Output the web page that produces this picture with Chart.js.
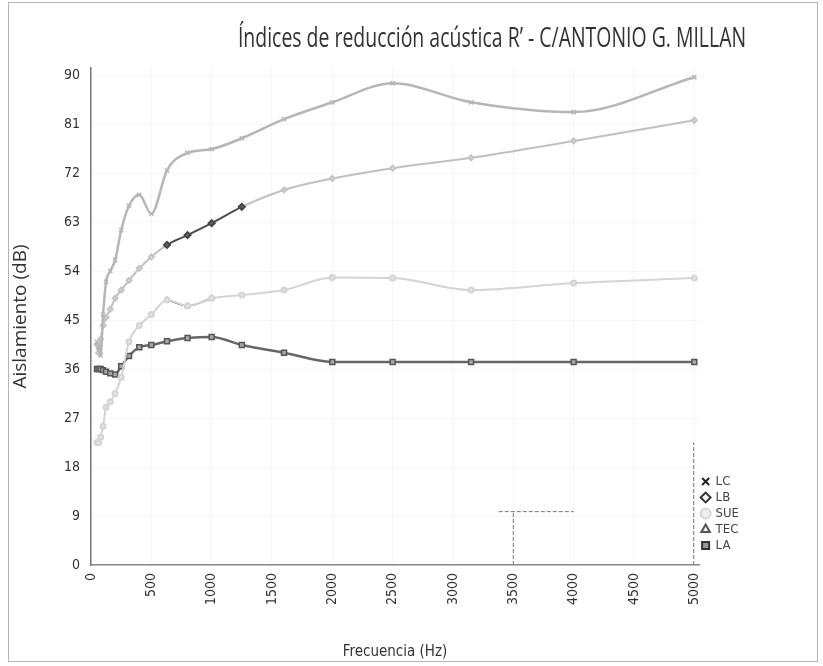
<!DOCTYPE html>
<html>
<head>
<meta charset="utf-8">
<script src="https://cdn.jsdelivr.net/npm/chart.js@4.4.1/dist/chart.umd.min.js"></script>
<style>
  body { margin: 0; background: #fff; }
  #frame {
    position: absolute; left: 8px; top: 2px;
    width: 810px; height: 660px;
    border: 1px solid #b4b4b4; box-sizing: border-box;
  }
  #frame canvas { display: block; }
</style>
</head>
<body>
<div id="frame"><canvas id="chart" width="808" height="658"></canvas></div>
<script>
(function() {
  var ctx = document.getElementById('chart');

  var textColor = '#333';
  var fontFamily = '"Liberation Sans Narrow", "DejaVu Sans Condensed", "Open Sans", sans-serif';
  var titleText = 'Índices de reducción acústica R\u2019 - C/ANTONIO G. MILLAN';

  /* third-octave band centres (Hz) */
  var freqs = [50, 63, 80, 100, 125, 160, 200, 250, 315, 400, 500, 630, 800, 1000, 1250, 1600, 2000, 2500, 3150, 4000, 5000];

  /* values, dB */
  var lcValues  = [41, 40, 38.5, 46, 52, 54, 56, 61.5, 66, 68, 64.5, 72.5, 75.7, 76.4, 78.4, 81.9, 85, 88.5, 85, 83.2, 89.6];
  var lbValues  = [40.5, 39, 41.5, 44, 45.5, 47, 49, 50.5, 52.3, 54.5, 56.6, 58.8, 60.6, 62.8, 65.8, 68.9, 71, 72.9, 74.8, 77.9, 81.7];
  var sueValues = [22.5, 22.5, 23.5, 25.5, 29, 30, 31.5, 34.5, 41, 44, 46, 48.7, 47.6, 49, 49.6, 50.5, 52.8, 52.7, 50.5, 51.8, 52.7];
  var tecValues = [null, null, null, null, null, null, null, null, null, null, null, 48.7, 47.6, 49, null, null, null, null, null, null, null];
  var laValues  = [36, 36, 36, 35.8, 35.5, 35.2, 35, 36.5, 38.4, 40, 40.4, 41.1, 41.7, 41.9, 40.4, 39, 37.3, 37.3, 37.3, 37.3, 37.3];

  /* dark stretch of the LB line (band range) */
  var lbDarkFrom = 630;
  var lbDarkTo = 1250;

  /* stray dashed marks on the scan */
  var guideLow  = [{ x: 3500, y: 0 }, { x: 3500, y: 9.8 }];
  var guideFlat = [{ x: 3380, y: 9.8 }, { x: 4000, y: 9.8 }];
  var guideEnd  = [{ x: 4995, y: 0 }, { x: 4995, y: 22.5 }];

  var yTicks = [0, 9, 18, 27, 36, 45, 54, 63, 72, 81, 90];
  var xTicks = [0, 500, 1000, 1500, 2000, 2500, 3000, 3500, 4000, 4500, 5000];

  var legendItems = [
    { text: 'LC',  style: 'crossRot', fill: '#222', stroke: '#222' },
    { text: 'LB',  style: 'rectRot',  fill: '#fff', stroke: '#333' },
    { text: 'SUE', style: 'circle',   fill: '#eee', stroke: '#d6d6d6' },
    { text: 'TEC', style: 'triangle', fill: '#eee', stroke: '#555' },
    { text: 'LA',  style: 'rect',     fill: '#999', stroke: '#333' }
  ];

  function toPoints(values) {
    return freqs.map(function(f, i) { return { x: f, y: values[i] }; });
  }

  function inDark(i) {
    return freqs[i] >= lbDarkFrom && freqs[i] <= lbDarkTo;
  }

  function guide(points) {
    return {
      label: '',
      data: points,
      borderColor: '#777',
      borderWidth: 1,
      borderDash: [4, 2],
      pointRadius: 0,
      showLine: true,
      fill: false
    };
  }

  new Chart(ctx, {
    type: 'scatter',
    data: {
      datasets: [
        {
          label: 'LC',
          data: toPoints(lcValues),
          borderColor: '#b6b6b6',
          backgroundColor: '#b6b6b6',
          borderWidth: 2.5,
          pointStyle: 'crossRot',
          pointRadius: 3,
          pointBorderWidth: 1.5,
          showLine: true,
          cubicInterpolationMode: 'monotone',
          fill: false
        },
        {
          label: 'LB',
          data: toPoints(lbValues),
          borderColor: '#c0c0c0',
          backgroundColor: '#c0c0c0',
          borderWidth: 2,
          pointStyle: 'rectRot',
          pointRadius: freqs.map(function(f, i) { return inDark(i) ? 3 : 2.5; }),
          pointBorderColor: freqs.map(function(f, i) { return inDark(i) ? '#444' : '#c4c4c4'; }),
          pointBackgroundColor: freqs.map(function(f, i) { return inDark(i) ? '#666' : '#ddd'; }),
          segment: {
            borderColor: function(c) {
              return (inDark(c.p0DataIndex) && inDark(c.p1DataIndex)) ? '#4a4a4a' : undefined;
            }
          },
          showLine: true,
          cubicInterpolationMode: 'monotone',
          fill: false
        },
        {
          label: 'SUE',
          data: toPoints(sueValues),
          borderColor: '#d4d4d4',
          backgroundColor: '#e4e4e4',
          borderWidth: 2,
          pointStyle: 'circle',
          pointRadius: 2.5,
          showLine: true,
          cubicInterpolationMode: 'monotone',
          fill: false
        },
        {
          label: 'TEC',
          data: toPoints(tecValues),
          borderColor: '#666',
          backgroundColor: '#777',
          borderWidth: 1.5,
          pointStyle: 'triangle',
          pointRadius: 2.5,
          showLine: true,
          spanGaps: false,
          cubicInterpolationMode: 'monotone',
          fill: false
        },
        {
          label: 'LA',
          data: toPoints(laValues),
          borderColor: '#666',
          backgroundColor: '#a8a8a8',
          pointBorderColor: '#555',
          borderWidth: 2.5,
          pointStyle: 'rect',
          pointRadius: 3.5,
          pointBorderWidth: 1.5,
          showLine: true,
          cubicInterpolationMode: 'monotone',
          fill: false
        },
        guide(guideLow),
        guide(guideFlat),
        guide(guideEnd)
      ]
    },
    options: {
      responsive: false,
      animation: false,
      layout: { padding: { top: 65, right: 68, bottom: 0, left: 0 } },
      plugins: {
        title: { display: false },
        legend: {
          position: 'right',
          align: 'end',
          fullSize: false,
          labels: {
            color: '#444',
            font: { size: 13, family: fontFamily },
            usePointStyle: true,
            boxWidth: 7,
            boxHeight: 7,
            padding: 3,
            generateLabels: function() {
              return legendItems.map(function(it, i) {
                return {
                  text: it.text,
                  pointStyle: it.style,
                  fillStyle: it.fill,
                  strokeStyle: it.stroke,
                  lineWidth: 2,
                  fontColor: '#444',
                  datasetIndex: i,
                  hidden: false
                };
              });
            }
          }
        },
        tooltip: { enabled: false }
      },
      scales: {
        x: {
          type: 'linear',
          min: 0,
          max: 5040,
          afterBuildTicks: function(axis) {
            axis.ticks = xTicks.map(function(v) { return { value: v }; });
          },
          afterFit: function(axis) { axis.height = 96; },
          border: { color: '#8a8a8a', width: 1.5 },
          grid: { color: 'rgba(0,0,0,0.035)', drawTicks: false },
          ticks: {
            color: textColor,
            font: { size: 14, family: fontFamily },
            minRotation: 90,
            maxRotation: 90,
            padding: 8,
            autoSkip: false,
            callback: function(v) { return String(v); }
          },
          title: {
            display: true,
            text: 'Frecuencia (Hz)',
            color: textColor,
            font: { size: 15, family: fontFamily },
            padding: { top: 0, bottom: 0 }
          }
        },
        y: {
          type: 'linear',
          min: 0,
          max: 91.3,
          afterBuildTicks: function(axis) {
            axis.ticks = yTicks.map(function(v) { return { value: v }; });
          },
          afterFit: function(axis) { axis.width = 82; },
          border: { color: '#777', width: 1.5 },
          grid: { color: 'rgba(0,0,0,0.03)', drawTicks: false },
          ticks: {
            color: textColor,
            font: { size: 14, family: fontFamily },
            padding: 11
          },
          title: {
            display: true,
            text: 'Aislamiento (dB)',
            color: textColor,
            font: { size: 19, family: '"Open Sans", sans-serif' },
            padding: { top: 0, bottom: 0 }
          }
        }
      }
    },
    plugins: [{
      id: 'scanLayout',
      afterLayout: function(chart) {
        /* lift the legend block to where the scan shows it */
        if (chart.legend) chart.legend.bottom -= 10;
      },
      afterDraw: function(chart) {
        /* the scan squeezes horizontal text, so draw the title narrowed */
        var c = chart.ctx;
        c.save();
        c.font = 'normal 27px "Open Sans", sans-serif';
        c.fillStyle = textColor;
        c.textAlign = 'center';
        c.textBaseline = 'middle';
        c.translate(483, 36);
        c.scale(0.72, 1);
        c.fillText(titleText, 0, 0);
        c.restore();
      }
    }]
  });
})();
</script>
</body>
</html>
